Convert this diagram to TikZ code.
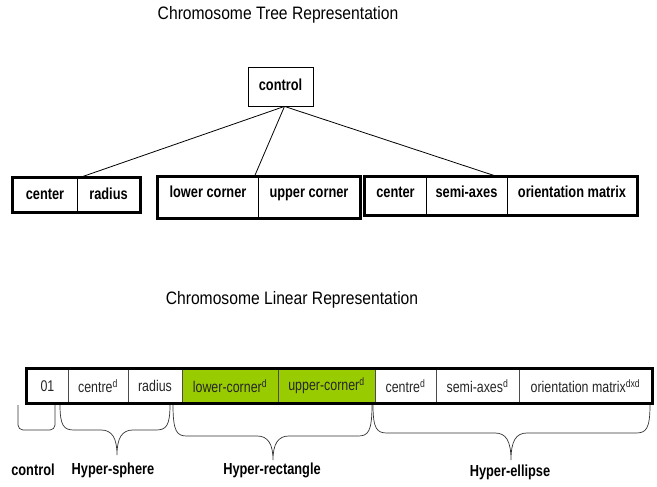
\documentclass[tikz,border=0pt]{standalone}
\usepackage{fontspec}
\setmainfont{Liberation Sans}[FakeStretch=0.87]
\newfontfamily\narrowfont[FakeStretch=0.8]{Liberation Sans}

\definecolor{limegreen}{RGB}{153,204,0}

% curly brace: left x, right x, tip x, bar y, tip y
\newcommand{\curlybrace}[5]{%
  \draw[bracket] (#1,405) .. controls (#1,#4-4) and (#1+4,#4) .. (#1+14,#4)
    -- (#3-16,#4) .. controls (#3-5,#4) and (#3,#4+8) .. (#3,#5)
    .. controls (#3,#4+8) and (#3+5,#4) .. (#3+16,#4)
    -- (#2-14,#4) .. controls (#2-4,#4) and (#2,#4-4) .. (#2,405);}

\begin{document}
\begin{tikzpicture}[x=1pt,y=-1pt]
  \tikzstyle{every node}=[inner sep=0pt]
  \tikzstyle{title}=[font=\fontsize{18}{21}\selectfont]
  \tikzstyle{treecell}=[draw,line width=0.8pt,text height=11,text depth=3,
    font=\narrowfont\fontsize{16}{19}\selectfont\bfseries]
  \tikzstyle{linecell}=[draw=black!70,line width=0.6pt,font=\narrowfont\fontsize{15.5}{18}\selectfont,text=black!85]
  \tikzstyle{thickframe}=[line width=3pt]
  \tikzstyle{bracelabel}=[font=\narrowfont\fontsize{16}{19}\selectfont\bfseries]
  \tikzstyle{bracket}=[line width=0.7pt,black!80]
\useasboundingbox (0,0) rectangle (657,487);

% tree
\node[title] (treetitle) at (278,15) {Chromosome Tree Representation};
\node[treecell,minimum width=65,minimum height=39] (control) at (280.5,86.5) {control};

\node[treecell,text depth=2,minimum width=64,minimum height=34] (hsc) at (45,195) {center};
\node[treecell,text depth=2,minimum width=63,minimum height=34] (hsr) at (108.5,195) {radius};
\draw[thickframe] (hsc.north west) rectangle (hsr.south east);

\node[treecell,text depth=12,minimum width=100,minimum height=41] (hrl) at (208,197.5) {lower corner};
\node[treecell,text depth=12,minimum width=102,minimum height=41] (hru) at (309,197.5) {upper corner};
\draw[thickframe] (hrl.north west) rectangle (hru.south east);

\node[treecell,text depth=8,minimum width=61,minimum height=38] (hec) at (395.5,196) {center};
\node[treecell,text depth=8,minimum width=81,minimum height=38] (hes) at (466.5,196) {semi-axes};
\node[treecell,text depth=8,minimum width=130,minimum height=38] (heo) at (572,196) {orientation matrix};
\draw[thickframe] (hec.north west) rectangle (heo.south east);

\draw[line width=0.8pt] ([xshift=4]control.south) -- ([xshift=3]hsr.north west);
\draw[line width=0.8pt] ([xshift=4]control.south) -- ([xshift=-4]hrl.north east);
\draw[line width=0.8pt] ([xshift=4]control.south) -- ([xshift=-10]hes.north east);

% linear
\node[title] (lintitle) at (292,300) {Chromosome Linear Representation};
\node[linecell,minimum width=41,minimum height=34] (b01) at (47.5,386) {01};
\node[linecell,minimum width=60,minimum height=34] (bcen) at (98,386) {centre\textsuperscript{d}};
\node[linecell,minimum width=54,minimum height=34] (brad) at (155,386) {radius};
\node[linecell,fill=limegreen,minimum width=96,minimum height=34] (blow) at (230,386) {lower-corner\textsuperscript{d}};
\node[linecell,fill=limegreen,minimum width=97,minimum height=34] (bupp) at (326.5,386) {upper-corner\textsuperscript{d}};
\node[linecell,minimum width=61,minimum height=34] (becen) at (405.5,386) {centre\textsuperscript{d}};
\node[linecell,minimum width=83,minimum height=34] (bsemi) at (477.5,386) {semi-axes\textsuperscript{d}};
\node[linecell,minimum width=133,minimum height=34] (bori) at (585.5,386) {orientation matrix\textsuperscript{dxd}};
\draw[thickframe] (b01.north west) rectangle (bori.south east);

% braces
\draw[bracket,rounded corners=5] (18,405) -- (18,430) -- (55,430) -- (55,405);
\curlybrace{60}{170}{117}{430}{455}
\curlybrace{173}{372}{273}{436}{460}
\curlybrace{373}{650}{511}{433}{460}

\node[bracelabel] (lctrl) at (33,470) {control};
\node[bracelabel] (lsph) at (113,470) {Hyper-sphere};
\node[bracelabel] (lrect) at (272,470) {Hyper-rectangle};
\node[bracelabel] (lell) at (510,472) {Hyper-ellipse};
\end{tikzpicture}
\end{document}
